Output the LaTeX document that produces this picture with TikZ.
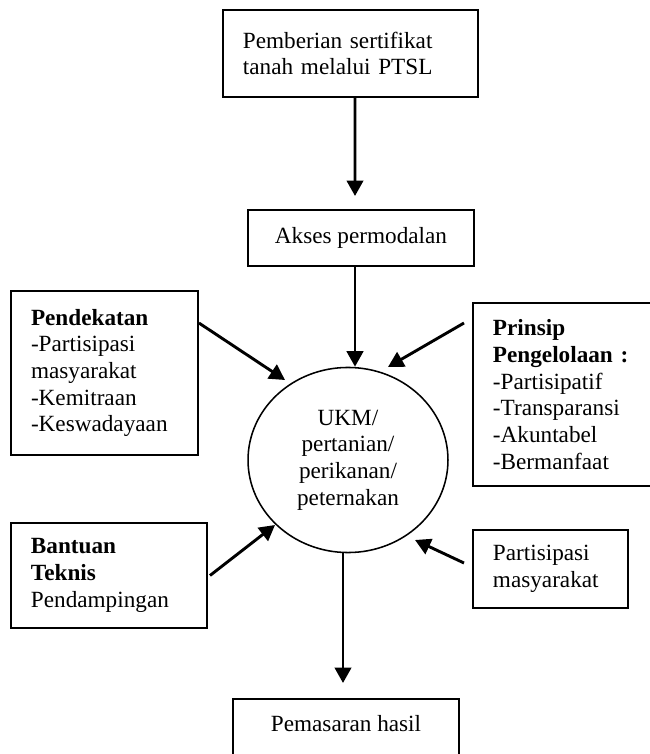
\documentclass[tikz,border=0pt]{standalone}
\usepackage{fontspec}
\setmainfont{Liberation Serif}
\usetikzlibrary{arrows.meta,shapes.geometric,calc}

\begin{document}
\begin{tikzpicture}[x=0.5171pt,y=-0.5171pt,
    font=\fontsize{12}{13.8}\selectfont,
    box/.style={draw,line width=1pt,inner xsep=10.34pt,inner ysep=0pt,align=left},
    arr/.style={-{Triangle[length=8pt,width=8.5pt]},line width=1.5pt}]
      \useasboundingbox (0,0) rectangle (649,754);
      \node [box,text width=111.2pt,minimum height=45pt] (ptsl) at (350.5,53.5) {Pemberian~sertifikat\\tanah~melalui~PTSL};
      \node [box,minimum width=116.9pt,minimum height=29pt] (akses) at (361,238) {Akses~permodalan};
      \node [ellipse,draw,line width=0.8pt,minimum width=103.4pt,minimum height=95.7pt,align=center,inner sep=0pt] (ukm) at (348,460) {UKM/\\pertanian/\\perikanan/\\peternakan};
      \node [box,text width=76pt,minimum height=84.8pt] (pendekatan) at (104.5,373) {\textbf{Pendekatan}\\-Partisipasi\\masyarakat\\-Kemitraan\\-Keswadayaan};
      \node [box,text width=71.9pt,minimum height=94.6pt] (prinsip) at (562.5,394.5) {\textbf{Prinsip}\\\textbf{Pengelolaan~:}\\-Partisipatif\\-Transparansi\\-Akuntabel\\-Bermanfaat};
      \node [box,text width=80.7pt,minimum height=54.3pt] (bantuan) at (109,575.5) {\textbf{Bantuan}\\\textbf{Teknis}\\Pendampingan};
      \node [box,text width=59.5pt,minimum height=40.3pt] (partisipasi) at (550.5,569) {Partisipasi\\masyarakat};
      \node [box,minimum width=116.9pt,text height=17pt,text depth=15pt,anchor=north] (pemasaran) at (346,698) {Pemasaran~hasil};

      \draw[arr] ($(ptsl.south)+(4.5,0)$) -- ($(akses.north)+(-6,-13)$);
      \draw[arr] ($(akses.south)+(-6,0)$) -- ($(ukm.north)+(7,0)$);
      \draw[arr] ($(pendekatan.east)+(0,-50)$) -- ($(ukm.center)+(-63,-80)$);
      \draw[arr] ($(prinsip.west)+(-8,-71.5)$) -- ($(ukm.center)+(40,-93)$);
      \draw[arr] ($(bantuan.east)+(2,0)$) -- ($(ukm.center)+(-73,65)$);
      \draw[arr] ($(partisipasi.west)+(-8,-6)$) -- ($(ukm.center)+(67,80)$);
      \draw[arr] ($(ukm.south)+(-5,0)$) -- ($(pemasaran.north)+(-3,-15)$);
    \end{tikzpicture}
\end{document}
